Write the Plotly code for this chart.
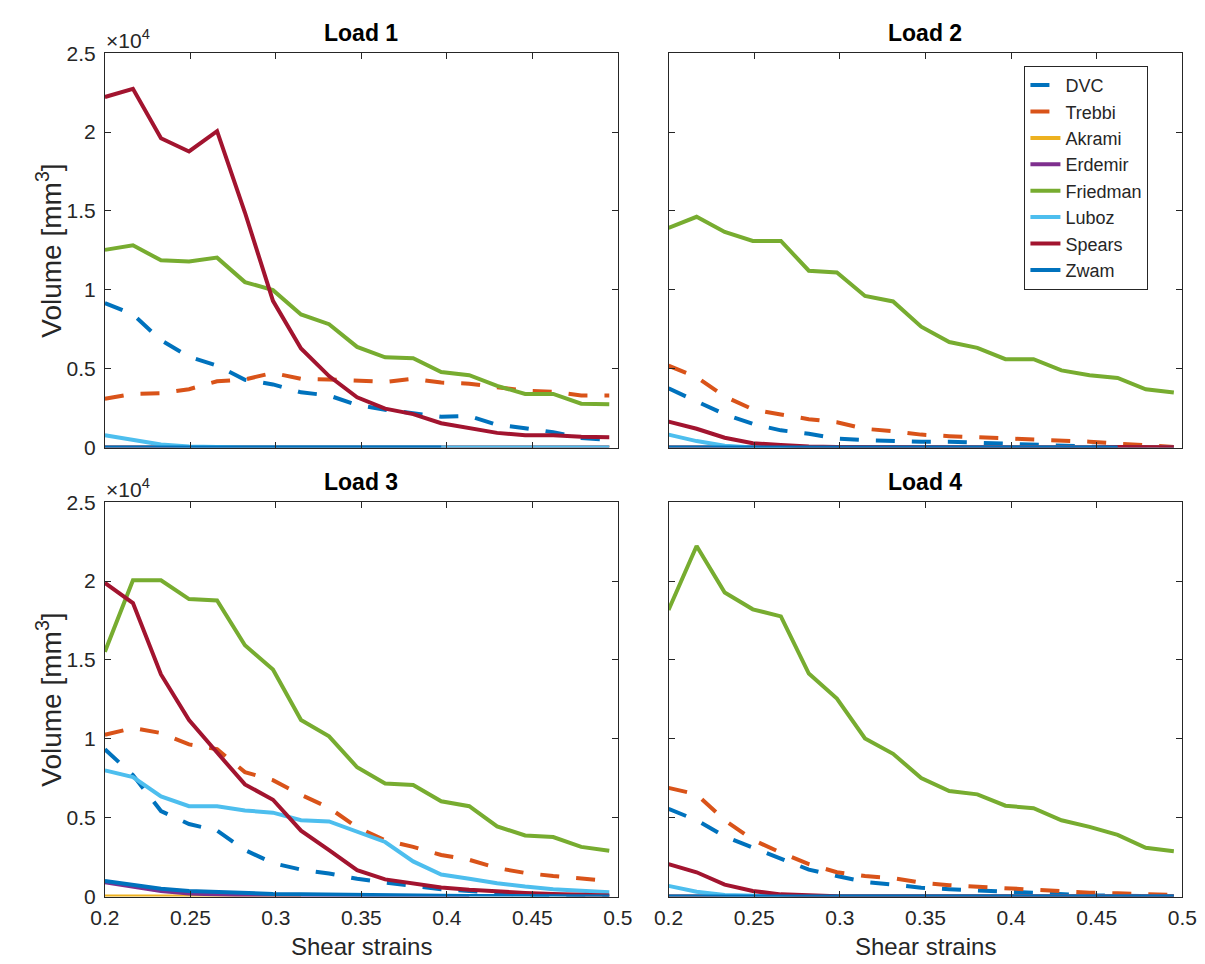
import plotly.graph_objects as go

# ---------------- data (volumes in units of 1e4 mm^3) ----------------
STRAIN = [0.200, 0.2164, 0.2328, 0.2492, 0.2656, 0.2819, 0.2983, 0.3147, 0.3311, 0.3475,
          0.3639, 0.3803, 0.3967, 0.4131, 0.4294, 0.4458, 0.4622, 0.4786, 0.4950]
SERIES = ["DVC", "Trebbi", "Akrami", "Erdemir", "Friedman", "Luboz", "Spears", "Zwam"]
LOADS = ["Load 1", "Load 2", "Load 3", "Load 4"]
SCALE = 1e4
Z = 0.0

# Load 1
load1_dvc = [0.916, 0.844, 0.68, 0.576, 0.519, 0.43, 0.40, 0.35, 0.33, 0.27, 0.24, 0.216, 0.195, 0.20, 0.144, 0.123, 0.097, 0.06, 0.05]
load1_trebbi = [0.309, 0.34, 0.344, 0.37, 0.42, 0.432, 0.473, 0.436, 0.432, 0.422, 0.416, 0.436, 0.412, 0.405, 0.381, 0.36, 0.354, 0.33, 0.33]
load1_akrami = [Z] * 19
load1_erdemir = [Z] * 19
load1_friedman = [1.253, 1.282, 1.187, 1.179, 1.204, 1.049, 0.998, 0.844, 0.782, 0.638, 0.572, 0.566, 0.479, 0.459, 0.391, 0.340, 0.340, 0.278, 0.274]
load1_luboz = [0.078, 0.051, 0.02, 0.006, 0, 0, 0, 0, 0, 0, 0, 0, 0, 0, 0, 0, 0, 0, 0]
load1_spears = [2.222, 2.274, 1.961, 1.877, 2.006, 1.49, 0.93, 0.628, 0.453, 0.319, 0.247, 0.212, 0.154, 0.123, 0.093, 0.078, 0.078, 0.068, 0.066]
load1_zwam = [0, 0, 0, 0, 0, 0, 0, 0, 0, 0, 0, 0, 0, None, None, None, None, None, None]

# Load 2
load2_dvc = [0.375, 0.294, 0.211, 0.15, 0.109, 0.088, 0.057, 0.047, 0.041, 0.037, 0.037, 0.03, 0.027, 0.016, 0.01, 0.006, 0.003, 0.001, 0.0]
load2_trebbi = [0.519, 0.447, 0.324, 0.242, 0.209, 0.18, 0.16, 0.119, 0.103, 0.082, 0.072, 0.066, 0.057, 0.049, 0.043, 0.037, 0.025, 0.012, 0.004]
load2_akrami = [Z] * 19
load2_erdemir = [Z] * 19
load2_friedman = [1.392, 1.463, 1.367, 1.31, 1.31, 1.121, 1.11, 0.961, 0.926, 0.766, 0.669, 0.632, 0.56, 0.56, 0.489, 0.458, 0.441, 0.369, 0.349]
load2_luboz = [0.082, 0.041, 0.012, 0, 0, 0, 0, 0, 0, 0, 0, 0, 0, 0, 0, 0, 0, 0, 0]
load2_spears = [0.164, 0.119, 0.062, 0.027, 0.016, 0.006, 0.003, 0.002, 0.001, 0, 0, 0, 0, 0, 0, 0, 0.003, 0.003, 0.002]
load2_zwam = [0, 0, 0, 0, 0, 0, 0, 0, 0, 0, 0, 0, 0, 0, 0, 0, 0, None, None]

# Load 3
load3_dvc = [0.934, 0.77, 0.542, 0.46, 0.418, 0.295, 0.212, 0.171, 0.146, 0.113, 0.089, 0.068, 0.047, 0.035, 0.02, 0.01, 0.005, 0.002, 0.0]
load3_trebbi = [1.026, 1.068, 1.037, 0.965, 0.934, 0.789, 0.738, 0.645, 0.563, 0.439, 0.357, 0.315, 0.264, 0.233, 0.181, 0.15, 0.13, 0.113, 0.099]
load3_akrami = [0, 0, 0, 0, 0, 0, 0, 0, None, None, None, None, None, None, None, None, None, None, None]
load3_erdemir = [0.09, 0.065, 0.035, 0.02, 0.012, 0.008, 0.005, 0.003, 0.002, 0.001, 0.0, 0.0, 0.0, 0.0, None, None, None, None, None]
load3_friedman = [1.552, 2.005, 2.005, 1.886, 1.877, 1.593, 1.439, 1.119, 1.016, 0.82, 0.717, 0.707, 0.604, 0.573, 0.445, 0.387, 0.377, 0.315, 0.291]
load3_luboz = [0.80, 0.758, 0.635, 0.573, 0.573, 0.546, 0.532, 0.484, 0.476, 0.408, 0.346, 0.223, 0.14, 0.113, 0.085, 0.064, 0.047, 0.037, 0.027]
load3_spears = [1.989, 1.861, 1.408, 1.119, 0.913, 0.711, 0.614, 0.418, 0.295, 0.167, 0.109, 0.085, 0.058, 0.043, 0.031, 0.023, 0.016, 0.012, 0.006]
load3_zwam = [0.099, 0.075, 0.05, 0.035, 0.028, 0.02, 0.017, 0.015, 0.012, 0.01, 0.008, 0.006, 0.005, 0.004, 0.003, 0.002, 0.002, 0.001, 0.001]

# Load 4
load4_dvc = [0.556, 0.484, 0.381, 0.309, 0.237, 0.171, 0.13, 0.093, 0.076, 0.056, 0.047, 0.039, 0.027, 0.019, 0.012, 0.008, 0.005, 0.003, 0.001]
load4_trebbi = [0.689, 0.648, 0.484, 0.36, 0.278, 0.206, 0.154, 0.13, 0.117, 0.088, 0.072, 0.062, 0.051, 0.041, 0.031, 0.025, 0.021, 0.016, 0.01]
load4_akrami = [Z] * 19
load4_erdemir = [Z] * 19
load4_friedman = [1.817, 2.222, 1.928, 1.821, 1.776, 1.414, 1.255, 1.002, 0.905, 0.751, 0.669, 0.648, 0.576, 0.56, 0.484, 0.442, 0.391, 0.309, 0.288]
load4_luboz = [0.068, 0.031, 0.01, 0.003, 0, 0, 0, 0, 0, 0, 0, 0, 0, 0, 0, 0, 0, 0, 0]
load4_spears = [0.206, 0.154, 0.076, 0.035, 0.014, 0.006, 0.002, 0.001, 0, 0, 0, 0, 0, 0, 0, 0, 0, 0, 0]
load4_zwam = [Z] * 19

DATA = [
    [load1_dvc, load1_trebbi, load1_akrami, load1_erdemir, load1_friedman, load1_luboz, load1_spears, load1_zwam],
    [load2_dvc, load2_trebbi, load2_akrami, load2_erdemir, load2_friedman, load2_luboz, load2_spears, load2_zwam],
    [load3_dvc, load3_trebbi, load3_akrami, load3_erdemir, load3_friedman, load3_luboz, load3_spears, load3_zwam],
    [load4_dvc, load4_trebbi, load4_akrami, load4_erdemir, load4_friedman, load4_luboz, load4_spears, load4_zwam],
]

X_TICKS = [0.2, 0.25, 0.3, 0.35, 0.4, 0.45, 0.5]
Y_TICKS = [0, 0.5, 1, 1.5, 2, 2.5]

# ---------------- styling ----------------
COLORS = ["#0072BD", "#D95319", "#EDB120", "#7E2F8E", "#77AC30", "#4DBEEE", "#A2142F", "#0072BD"]
DASHES = ["19px,17px", "19px,17px", "solid", "solid", "solid", "solid", "solid", "solid"]
AX = "#262626"
FONT = "Liberation Sans, Arial, sans-serif"

W, H = 1205, 964
# pixel boxes (left, right, top, bottom)
BOXES = [(84, 610, 34, 438), (662, 1189, 34, 438), (84, 610, 494, 898), (662, 1189, 494, 898)]

fig = go.Figure()
layout = dict(width=W, height=H, margin=dict(l=0, r=0, t=0, b=0),
              paper_bgcolor="white", plot_bgcolor="white",
              font=dict(family=FONT, color=AX), showlegend=True)
annotations = []

for p, (l, r, t, b) in enumerate(BOXES):
    idx = "" if p == 0 else str(p + 1)
    xa, ya = "xaxis" + idx, "yaxis" + idx
    for s, name in enumerate(SERIES):
        fig.add_trace(go.Scatter(
            x=STRAIN, y=[None if v is None else v * SCALE for v in DATA[p][s]],
            mode="lines", name=name,
            line=dict(color=COLORS[s], width=4, dash=DASHES[s]),
            xaxis="x" + idx, yaxis="y" + idx,
            showlegend=(p == 1), legendgroup=name, connectgaps=False,
        ))
    bottom_row = p >= 2
    left_col = p % 2 == 0
    layout[xa] = dict(domain=[l / W, r / W], range=[0.2, 0.5], anchor="y" + idx,
                      tickvals=X_TICKS, ticktext=[f"{v:g}" for v in X_TICKS],
                      showticklabels=bottom_row, ticks="inside", ticklen=6, tickcolor=AX,
                      showline=True, linecolor=AX, linewidth=1, mirror="ticks",
                      showgrid=False, zeroline=False, ticklabelstandoff=2,
                      tickfont=dict(size=21, color=AX, family=FONT))
    layout[ya] = dict(domain=[1 - b / H, 1 - t / H], range=[0, 2.5 * SCALE], anchor="x" + idx,
                      tickvals=[v * SCALE for v in Y_TICKS], ticktext=[f"{v:g}" for v in Y_TICKS],
                      showticklabels=left_col, ticks="inside", ticklen=6, tickcolor=AX,
                      showline=True, linecolor=AX, linewidth=1, mirror="ticks",
                      showgrid=False, zeroline=False, ticklabelstandoff=4,
                      tickfont=dict(size=21, color=AX, family=FONT))
    # title
    annotations.append(dict(text="<b>" + LOADS[p] + "</b>", x=(l + r) / 2 / W, y=1 - (t - 21) / H,
                            xref="paper", yref="paper", xanchor="center", yanchor="middle",
                            showarrow=False, font=dict(size=23, color="black", family=FONT)))
    if left_col:
        annotations.append(dict(text="×10<sup>4</sup>", x=(l - 1) / W, y=1 - (t - 15) / H,
                                xref="paper", yref="paper", xanchor="left", yanchor="middle",
                                showarrow=False, font=dict(size=21, color=AX, family=FONT)))
        annotations.append(dict(text="Volume [mm<sup>3</sup>]", x=27 / W, y=1 - (t + b) / 2 / H,
                                xref="paper", yref="paper", xanchor="center", yanchor="middle",
                                textangle=-90, showarrow=False,
                                font=dict(size=28, color=AX, family=FONT)))
    if bottom_row:
        annotations.append(dict(text="Shear strains", x=(l + r) / 2 / W, y=1 - 949 / H,
                                xref="paper", yref="paper", xanchor="center", yanchor="middle",
                                showarrow=False, font=dict(size=24, color=AX, family=FONT)))

layout["annotations"] = annotations
layout["legend"] = dict(x=1027 / W, y=1 - 47 / H, xanchor="left", yanchor="top",
                        bgcolor="white", bordercolor=AX, borderwidth=1,
                        font=dict(size=18, color=AX, family=FONT),
                        tracegroupgap=0, itemwidth=30)
fig.update_layout(**layout)
fig.write_html("out.html")
